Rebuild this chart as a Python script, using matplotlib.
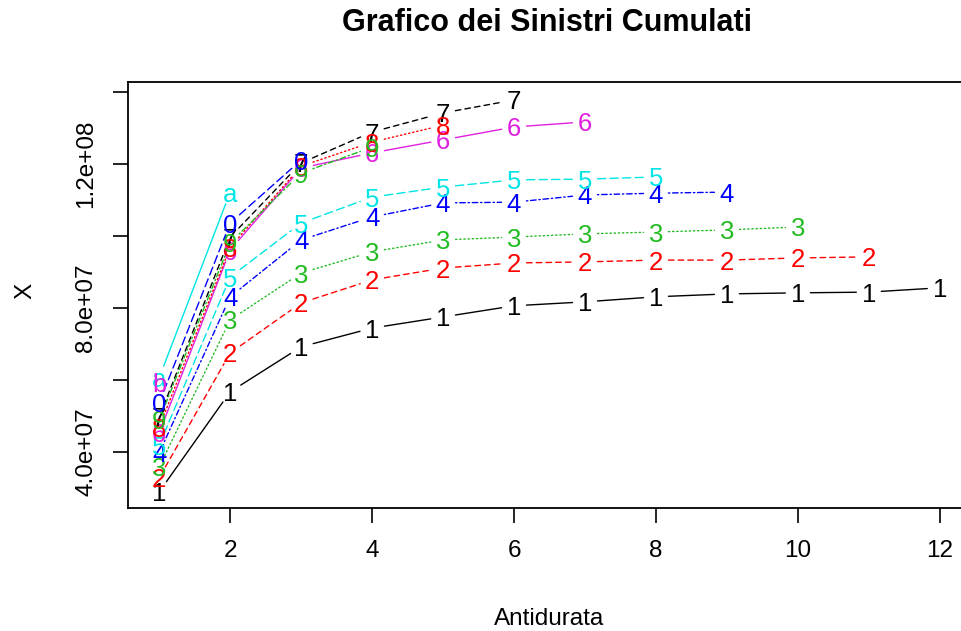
import numpy as np
import matplotlib
matplotlib.use("Agg")
import matplotlib.pyplot as plt

# cumulative claims by origin year (rows) and development year (columns)
antidurata = list(range(1, 13))
serie = [
    [2.89e7, 5.67e7, 6.92e7, 7.44e7, 7.75e7, 8.06e7, 8.17e7, 8.31e7, 8.39e7, 8.42e7, 8.44e7, 8.56e7],
    [3.28e7, 6.75e7, 8.14e7, 8.78e7, 9.11e7, 9.25e7, 9.28e7, 9.33e7, 9.33e7, 9.39e7, 9.42e7],
    [3.58e7, 7.67e7, 8.97e7, 9.56e7, 9.89e7, 9.97e7, 1.006e8, 1.011e8, 1.017e8, 1.025e8],
    [3.97e7, 8.31e7, 9.89e7, 1.053e8, 1.092e8, 1.094e8, 1.114e8, 1.119e8, 1.122e8],
    [4.19e7, 8.86e7, 1.036e8, 1.108e8, 1.136e8, 1.156e8, 1.158e8, 1.164e8],
    [4.53e7, 9.61e7, 1.189e8, 1.231e8, 1.267e8, 1.303e8, 1.317e8],
    [4.97e7, 9.97e7, 1.203e8, 1.289e8, 1.342e8, 1.378e8],
    [4.69e7, 9.69e7, 1.194e8, 1.261e8, 1.308e8],
    [4.89e7, 9.81e7, 1.175e8, 1.247e8],
    [5.36e7, 1.036e8, 1.211e8],
    [6.06e7, 1.122e8],
    [5.94e7],
]
simboli = ["1", "2", "3", "4", "5", "6", "7", "8", "9", "0", "a", "b"]
x_ticks = [2, 4, 6, 8, 10, 12]
y_ticks = [4e7, 6e7, 8e7, 1e8, 1.2e8, 1.4e8]
y_labels = ["4.0e+07", "", "8.0e+07", "", "1.2e+08", ""]

# R default palette / line types as used by matplot
colori = ["#000000", "#FF0000", "#22BB22", "#0000FF", "#00E5E5", "#E020E0"]
tratti = ["-", (0, (4, 3)), (0, (1, 2)), (0, (1, 2, 4, 2)), (0, (6, 3))]

plt.rcParams["font.family"] = ["Liberation Sans", "DejaVu Sans"]

fig = plt.figure(figsize=(9.62, 6.31), dpi=100)
W, H = 962, 631
ax = fig.add_axes([128 / W, (H - 508) / H, (971 - 128) / W, (508 - 82) / H])

for i, valori in enumerate(serie):
    col = colori[i % 6]
    ls = tratti[i % 5]
    xs = antidurata[:len(valori)]
    for j in range(len(valori) - 1):
        ax.annotate("", xy=(xs[j + 1], valori[j + 1]), xytext=(xs[j], valori[j]),
                    arrowprops=dict(arrowstyle="-", color=col, linestyle=ls, lw=1.0,
                                    shrinkA=9, shrinkB=9))
    for xv, yv in zip(xs, valori):
        ax.text(xv, yv, simboli[i], color=col, fontsize=18.5, ha="center", va="center_baseline")

ax.set_xlim(0.56, 12.44)
ax.set_ylim(2.44e7, 1.428e8)
ax.set_xticks(x_ticks)
ax.set_xticklabels([str(v) for v in x_ticks], fontsize=17.5)
ax.set_yticks(y_ticks)
ax.set_yticklabels(y_labels, fontsize=17.5, rotation=90, va="center")
ax.tick_params(length=11, width=1.2)
ax.tick_params(axis="x", pad=12)
ax.tick_params(axis="y", pad=11)
for s in ax.spines.values():
    s.set_linewidth(1.3)

fig.text(547 / W, 1 - 23 / H, "Grafico dei Sinistri Cumulati", ha="center", va="center",
         fontsize=22, fontweight="bold")
fig.text(549 / W, 1 - 619 / H, "Antidurata", ha="center", va="center", fontsize=17.5)
fig.text(25 / W, 1 - 291 / H, "X", ha="center", va="center", fontsize=17.5, rotation=90)

fig.savefig("out.png", dpi=100)
